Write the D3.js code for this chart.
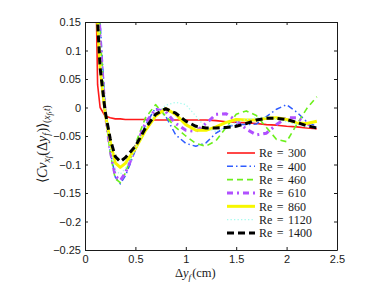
<!DOCTYPE html>
<html>
<head>
<meta charset="utf-8">
<script src="https://cdn.jsdelivr.net/npm/d3@7"></script>
<style>
  body { margin: 0; background: #fff; }
  svg { display: block; }
  .tick text { font-family: "Liberation Sans", Arial, sans-serif; font-size: 11px; fill: #1a1a1a; }
  .serif { font-family: "Liberation Serif", "Times New Roman", serif; fill: #1a1a1a; }
</style>
</head>
<body>
<div id="chart"></div>
<script>
// separation grid (cm) shared by all series
const dy = [0.1, 0.125, 0.15, 0.2, 0.25, 0.3, 0.35, 0.4, 0.45, 0.5, 0.6, 0.7, 0.8, 0.9, 1.0,
            1.1, 1.2, 1.3, 1.4, 1.5, 1.6, 1.7, 1.8, 1.9, 2.0, 2.1, 2.2, 2.3];

const re300  = [0.30, 0.04, 0.0, -0.015, -0.018, -0.02, -0.02, -0.021, -0.021, -0.021, -0.021, -0.022, -0.022, -0.022, -0.022,
                -0.022, -0.022, -0.023, -0.025, -0.026, -0.027, -0.028, -0.03, -0.031, -0.033, -0.034, -0.036, -0.037];
const re400  = [0.40, 0.28, 0.15, 0.0, -0.075, -0.122, -0.134, -0.12, -0.098, -0.075, -0.03, -0.001, -0.015, -0.048, -0.063,
                -0.068, -0.062, -0.045, -0.034, -0.03, -0.03, -0.029, -0.016, -0.003, 0.005, -0.008, -0.025, -0.033];
const re460  = [0.38, 0.25, 0.13, -0.01, -0.08, -0.125, -0.132, -0.115, -0.09, -0.064, -0.018, 0.005, -0.015, -0.035, -0.05,
                -0.063, -0.068, -0.058, -0.035, -0.012, -0.006, -0.014, -0.035, -0.056, -0.06, -0.03, -0.002, 0.019];
const re610  = [0.37, 0.24, 0.12, -0.01, -0.075, -0.12, -0.128, -0.115, -0.094, -0.07, -0.027, -0.003, -0.007, -0.028, -0.04,
                -0.042, -0.028, -0.012, -0.011, -0.023, -0.038, -0.048, -0.045, -0.03, -0.018, -0.018, -0.028, -0.037];
const re860  = [0.30, 0.15, 0.07, -0.01, -0.06, -0.097, -0.105, -0.098, -0.085, -0.072, -0.04, -0.015, -0.002, -0.012, -0.03,
                -0.04, -0.04, -0.034, -0.026, -0.021, -0.022, -0.022, -0.019, -0.018, -0.021, -0.027, -0.028, -0.024];
const re1120 = [0.33, 0.19, 0.10, -0.005, -0.07, -0.11, -0.117, -0.107, -0.09, -0.073, -0.037, -0.012, 0.004, 0.009, 0.005,
                -0.015, -0.036, -0.042, -0.035, -0.026, -0.021, -0.018, -0.017, -0.02, -0.025, -0.03, -0.034, -0.035];
const re1400 = [0.30, 0.15, 0.07, -0.007, -0.055, -0.086, -0.095, -0.088, -0.078, -0.068, -0.036, -0.012, -0.002, -0.01, -0.024,
                -0.033, -0.036, -0.036, -0.035, -0.033, -0.028, -0.022, -0.019, -0.019, -0.021, -0.026, -0.032, -0.036];

const reLabels = ["300", "400", "460", "610", "860", "1120", "1400"];
const xTicks = [0, 0.5, 1, 1.5, 2, 2.5];
const yTicks = [-0.25, -0.2, -0.15, -0.1, -0.05, 0, 0.05, 0.1, 0.15];

// line styles per Reynolds number (matlab-ish)
const styles = [
  { color: "#ff1a1a", width: 1.6, dash: null },
  { color: "#2f5cff", width: 1.5, dash: "6,3,1.5,3" },
  { color: "#6cf01c", width: 1.6, dash: "6,4" },
  { color: "#b050ff", width: 3, dash: "6,4,2,4" },
  { color: "#f7f700", width: 3, dash: null },
  { color: "#a6fbef", width: 1.3, dash: "1.3,2.2" },
  { color: "#000000", width: 3, dash: "7,4" }
];

const series = [re300, re400, re460, re610, re860, re1120, re1400].map((vals, i) => ({
  label: "Re = " + reLabels[i],
  points: dy.map((d, j) => [d, vals[j]]),
  style: styles[i]
}));

const W = 373, H = 283;
const margin = { left: 85, right: 36, top: 22, bottom: 33 };
const width = W - margin.left - margin.right;
const height = H - margin.top - margin.bottom;

const svg = d3.select("#chart").append("svg")
  .attr("width", W).attr("height", H);

const g = svg.append("g")
  .attr("transform", "translate(" + margin.left + "," + margin.top + ")");

const x = d3.scaleLinear().domain([0, 2.5]).range([0, width]);
const y = d3.scaleLinear().domain([-0.25, 0.15]).range([height, 0]);

svg.append("defs").append("clipPath").attr("id", "plotclip")
  .append("rect").attr("width", width).attr("height", height);

// curves
const line = d3.line().x(d => x(d[0])).y(d => y(d[1]));
const curves = g.append("g").attr("clip-path", "url(#plotclip)");
series.forEach(s => {
  curves.append("path")
    .attr("d", line(s.points))
    .attr("fill", "none")
    .attr("stroke", s.style.color)
    .attr("stroke-width", s.style.width)
    .attr("stroke-dasharray", s.style.dash)
    .attr("stroke-linejoin", "round");
});

// axes, ticks pointing inward, box on all sides
const fmt = d => d3.format("")(d).replace("-", "\u2212");
const tickLen = 3;
g.append("g").attr("class", "x axis")
  .attr("transform", "translate(0," + height + ")")
  .call(d3.axisBottom(x).tickValues(xTicks).tickFormat(d3.format("")).tickSizeInner(-tickLen).tickSizeOuter(0).tickPadding(5.5));
g.append("g").attr("class", "x axis top")
  .call(d3.axisTop(x).tickValues(xTicks).tickFormat("").tickSizeInner(-tickLen).tickSizeOuter(0));
g.append("g").attr("class", "y axis")
  .call(d3.axisLeft(y).tickValues(yTicks).tickFormat(fmt).tickSizeInner(-tickLen).tickSizeOuter(0).tickPadding(4));
g.append("g").attr("class", "y axis right")
  .attr("transform", "translate(" + width + ",0)")
  .call(d3.axisRight(y).tickValues(yTicks).tickFormat("").tickSizeInner(-tickLen).tickSizeOuter(0));
g.selectAll(".axis path").attr("stroke", "#1a1a1a");
g.selectAll(".axis line").attr("stroke", "#1a1a1a");

// legend (no frame)
const legend = g.append("g").attr("transform", "translate(142,131)");
series.forEach((s, i) => {
  const row = legend.append("g").attr("transform", "translate(0," + (i * 13.33) + ")");
  row.append("line")
    .attr("x1", 0).attr("x2", 28).attr("y1", 0).attr("y2", 0)
    .attr("stroke", s.style.color)
    .attr("stroke-width", s.style.width)
    .attr("stroke-dasharray", s.style.dash);
  row.append("text").attr("class", "serif")
    .attr("x", 32).attr("y", 4.2)
    .attr("font-size", 12)
    .attr("word-spacing", 1.5)
    .text(s.label);
});

// x label: Δy_f (cm)
const xl = svg.append("text").attr("class", "serif")
  .attr("x", 175).attr("y", 277).attr("font-size", 12.5);
xl.append("tspan").text("\u0394");
xl.append("tspan").attr("font-style", "italic").text("y");
xl.append("tspan").attr("font-style", "italic").attr("font-size", 9).attr("dy", 2.5).text("f");
xl.append("tspan").attr("dy", -2.5).attr("dx", 1).text("(cm)");

// y label: <Cv_{x_f}(Δy_f)>_{(x_f,t)}
const yl = svg.append("text").attr("class", "serif")
  .attr("transform", "translate(47,183) rotate(-90)")
  .attr("font-size", 14);
yl.append("tspan").text("\u27E8");
yl.append("tspan").attr("font-style", "italic").text("Cv");
yl.append("tspan").attr("font-style", "italic").attr("font-size", 9.5).attr("dy", 2.5).text("x");
yl.append("tspan").attr("font-style", "italic").attr("font-size", 7.5).attr("dy", 1.5).text("f");
yl.append("tspan").attr("dy", -4).attr("dx", 0.5).text("(\u0394");
yl.append("tspan").attr("font-style", "italic").text("y");
yl.append("tspan").attr("font-style", "italic").attr("font-size", 9.5).attr("dy", 2.5).text("f");
yl.append("tspan").attr("dy", -2.5).attr("dx", 0.5).text(")\u27E9");
yl.append("tspan").attr("font-size", 9.5).attr("dy", 3).text("(");
yl.append("tspan").attr("font-style", "italic").attr("font-size", 9.5).text("x");
yl.append("tspan").attr("font-style", "italic").attr("font-size", 7.5).attr("dy", 1.5).text("f");
yl.append("tspan").attr("font-size", 9.5).attr("dy", -1.5).text(",");
yl.append("tspan").attr("font-style", "italic").attr("font-size", 9.5).text("t");
yl.append("tspan").attr("font-size", 9.5).text(")");
</script>
</body>
</html>
